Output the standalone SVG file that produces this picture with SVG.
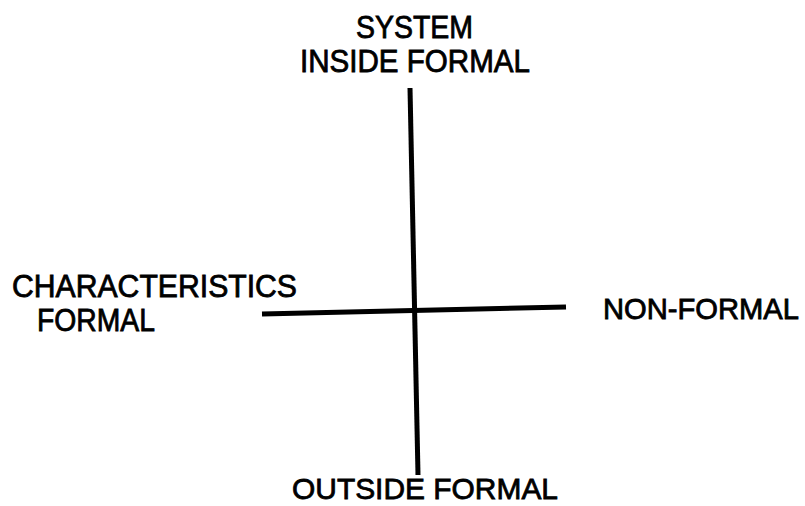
<svg xmlns="http://www.w3.org/2000/svg" width="805" height="506" viewBox="0 0 805 506">
<style>
text{font-family:"Liberation Sans",Arial,sans-serif;font-size:31px;fill:#000;stroke:#000;stroke-width:0.8}
.ax{stroke:#000;stroke-width:5;fill:none;stroke-linecap:butt}
</style>
<rect width="805" height="506" fill="#fff"/>
<g id="connectors">
<line class="ax" x1="410" y1="88" x2="418" y2="475"/>
<line class="ax" x1="262" y1="314" x2="566" y2="307"/>
</g>
<g id="top"><text x="356" y="38" textLength="117" lengthAdjust="spacingAndGlyphs">SYSTEM</text><text x="300" y="72" textLength="230" lengthAdjust="spacingAndGlyphs">INSIDE FORMAL</text></g>
<g id="left"><text x="12" y="297" textLength="285" lengthAdjust="spacingAndGlyphs">CHARACTERISTICS</text><text x="37" y="331" textLength="118" lengthAdjust="spacingAndGlyphs">FORMAL</text></g>
<g id="right"><text x="603" y="319" style="font-size:29px" textLength="196" lengthAdjust="spacingAndGlyphs">NON-FORMAL</text></g>
<g id="bottom"><text x="292" y="499" style="font-size:30px" textLength="266" lengthAdjust="spacingAndGlyphs">OUTSIDE FORMAL</text></g>
</svg>
